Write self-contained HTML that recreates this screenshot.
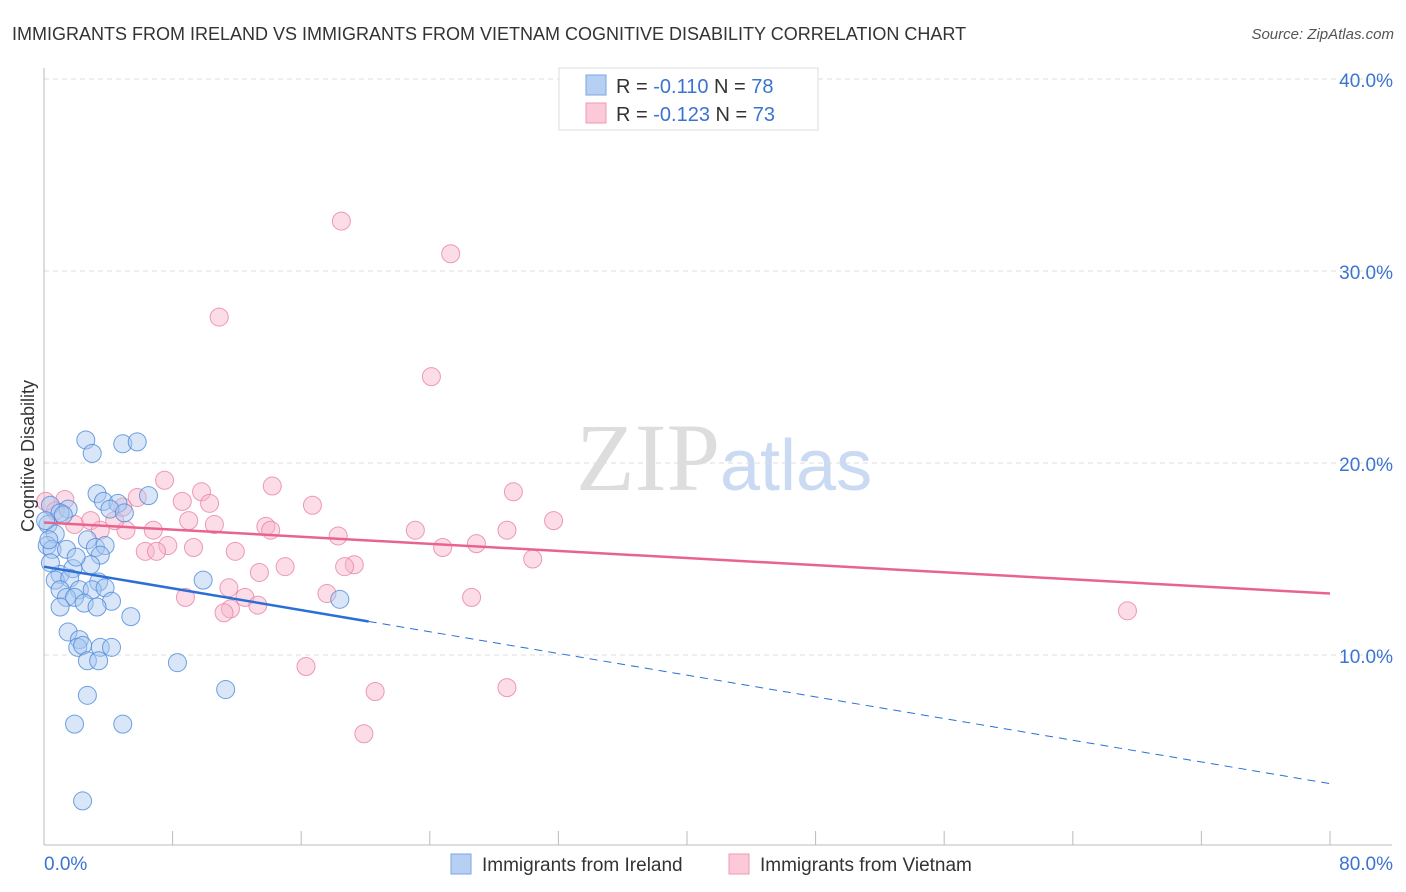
<!DOCTYPE html>
<html><head><meta charset="utf-8"><style>
body{margin:0;background:#fff;font-family:"Liberation Sans",sans-serif}
svg{display:block}
</style></head><body>
<svg width="1406" height="892" font-family="Liberation Sans, sans-serif">
<text x="12" y="40" font-size="18" fill="#333">IMMIGRANTS FROM IRELAND VS IMMIGRANTS FROM VIETNAM COGNITIVE DISABILITY CORRELATION CHART</text>
<text x="1394" y="39" font-size="15" fill="#555" font-style="italic" text-anchor="end">Source: ZipAtlas.com</text>
<text x="720" y="490" font-size="96" fill="#ddd" text-anchor="end" font-family="Liberation Serif, serif">ZIP</text>
<text x="720" y="490" font-size="72" fill="#c9daf2">atlas</text>
<g id="grid"></g><g id="axes"></g><g id="marks"></g>
<text transform="translate(34,456) rotate(-90)" font-size="18" fill="#333" text-anchor="middle">Cognitive Disability</text>
<g>
<rect x="559" y="68" width="259" height="62" fill="#fff" stroke="#ddd"/>
<rect x="586" y="75" width="20" height="20" fill="#b5d0f3" stroke="#7ba6e3"/>
<rect x="586" y="103" width="20" height="20" fill="#fbc9d8" stroke="#ee9ab5"/>
<text x="616" y="93" font-size="20" fill="#333">R = <tspan fill="#3b73d1">-0.110</tspan>   N = <tspan fill="#3b73d1">78</tspan></text>
<text x="616" y="121" font-size="20" fill="#333">R = <tspan fill="#3b73d1">-0.123</tspan>   N = <tspan fill="#3b73d1">73</tspan></text>
</g>
<g>
<rect x="451" y="854" width="20" height="20" fill="#b5d0f3" stroke="#7ba6e3"/>
<text x="482" y="871" font-size="19" fill="#333">Immigrants from Ireland</text>
<rect x="729" y="854" width="20" height="20" fill="#fbc9d8" stroke="#ee9ab5"/>
<text x="760" y="871" font-size="19" fill="#333">Immigrants from Vietnam</text>
</g>
</svg>
<script>
const yTicks=[10,20,30,40];
const yTickLabels=["10.0%","20.0%","30.0%","40.0%"];
const xTickLabels=["0.0%","80.0%"];
const irelandX=[2.6,4.9,5.8,3.0,3.3,6.5,3.7,4.6,1.5,0.4,1.0,4.1,5.0,0.25,0.7,2.7,0.2,0.5,1.4,3.2,3.8,3.5,1.0,1.8,2.9,0.7,1.6,3.4,9.9,2.2,1.0,3.0,3.8,1.4,1.9,2.5,4.2,1.0,3.3,5.4,18.4,1.5,2.2,2.1,2.4,3.5,4.2,2.7,3.4,8.3,2.7,11.3,1.9,4.9,2.4,0.4,0.1,0.3,1.2,2.0];
const irelandY=[21.2,21.0,21.1,20.5,18.4,18.3,18.0,17.9,17.6,17.8,17.4,17.6,17.4,16.8,16.3,16.0,15.7,15.5,15.5,15.6,15.7,15.2,14.2,14.5,14.7,13.9,14.0,13.8,13.9,13.4,13.4,13.4,13.5,13.0,13.0,12.7,12.8,12.5,12.5,12.0,12.9,11.2,10.8,10.4,10.5,10.4,10.4,9.7,9.7,9.6,7.9,8.2,6.4,6.4,2.4,14.8,17.0,16.0,17.3,15.1];
const vietnamX=[18.5,25.3,10.9,24.1,7.5,9.8,14.2,29.2,8.6,10.3,16.7,5.8,1.3,0.1,31.7,23.1,28.8,13.8,14.1,18.3,10.6,9.0,6.8,5.1,2.9,3.5,24.8,26.9,11.9,7.7,9.3,6.3,7.0,30.4,19.3,18.7,15.0,13.4,11.5,17.6,8.8,26.6,12.5,11.6,11.2,13.3,67.4,16.3,20.6,28.8,19.9,1.9,0.7,4.4,4.9];
const vietnamY=[32.6,30.9,27.6,24.5,19.1,18.5,18.8,18.5,18.0,17.9,17.8,18.2,18.1,18.0,17.0,16.5,16.5,16.7,16.5,16.2,16.8,17.0,16.5,16.5,17.0,16.5,15.6,15.8,15.4,15.7,15.6,15.4,15.4,15.0,14.7,14.6,14.6,14.3,13.5,13.2,13.0,13.0,13.0,12.4,12.2,12.6,12.3,9.4,8.1,8.3,5.9,16.8,17.5,17.0,17.7];
const irelandFit=[14.6,3.3];
const vietnamFit=[16.9,13.2];
const X=v=>44+v*16.075, Y=v=>847-v*19.2;
const NS="http://www.w3.org/2000/svg";
function mk(t,a,p){const e=document.createElementNS(NS,t);for(const k in a)e.setAttribute(k,a[k]);p.appendChild(e);return e;}
const grid=document.getElementById('grid'),axes=document.getElementById('axes'),marks=document.getElementById('marks');
yTicks.forEach((t,i)=>{
 const l=mk('line',{x1:44,x2:1392,y1:Y(t),y2:Y(t),stroke:'#ddd','stroke-dasharray':'5,4'},grid);
 
 
 const tx=mk('text',{x:1393,y:Y(t)+8,'font-size':19,fill:'#3b73d1','text-anchor':'end'},axes);
 tx.textContent=yTickLabels[i];
 
 
});
mk('line',{x1:44,x2:44,y1:68,y2:845,stroke:'#bbb'},axes);
mk('line',{x1:44,x2:1392,y1:845,y2:845,stroke:'#bbb'},axes);
for(let i=0;i<=10;i++){mk('line',{x1:X(i*8),x2:X(i*8),y1:831,y2:845,stroke:'#bbb'},axes);}
const xl0=mk('text',{x:44,y:870,'font-size':19,fill:'#3b73d1'},axes);xl0.textContent=xTickLabels[0];


const xl1=mk('text',{x:1393,y:870,'font-size':19,fill:'#3b73d1','text-anchor':'end'},axes);xl1.textContent=xTickLabels[1];


function pts(xs,ys,fill,stroke,name){xs.forEach((x,i)=>{
 const c=mk('circle',{cx:X(x),cy:Y(ys[i]),r:9,fill:fill,'fill-opacity':0.45,stroke:stroke,'stroke-opacity':0.8,'stroke-width':1},marks);
 
 
});}
pts(vietnamX,vietnamY,'#f8b4c9','#e882a4','vietnam-point');
pts(irelandX,irelandY,'#a9c8f0','#4f89dc','ireland-point');
const fy=(f,x)=>f[0]+(f[1]-f[0])*x/80;
const b1=mk('line',{x1:X(0),y1:Y(fy(irelandFit,0)),x2:X(20.2),y2:Y(fy(irelandFit,20.2)),stroke:'#2b6fd6','stroke-width':2.5},marks);


const b2=mk('line',{x1:X(20.2),y1:Y(fy(irelandFit,20.2)),x2:X(80),y2:Y(fy(irelandFit,80)),stroke:'#2b6fd6','stroke-width':1,'stroke-dasharray':'8,6'},marks);


const p1=mk('line',{x1:X(0),y1:Y(fy(vietnamFit,0)),x2:X(80),y2:Y(fy(vietnamFit,80)),stroke:'#e8648e','stroke-width':2.5},marks);


</script>
</body></html>
